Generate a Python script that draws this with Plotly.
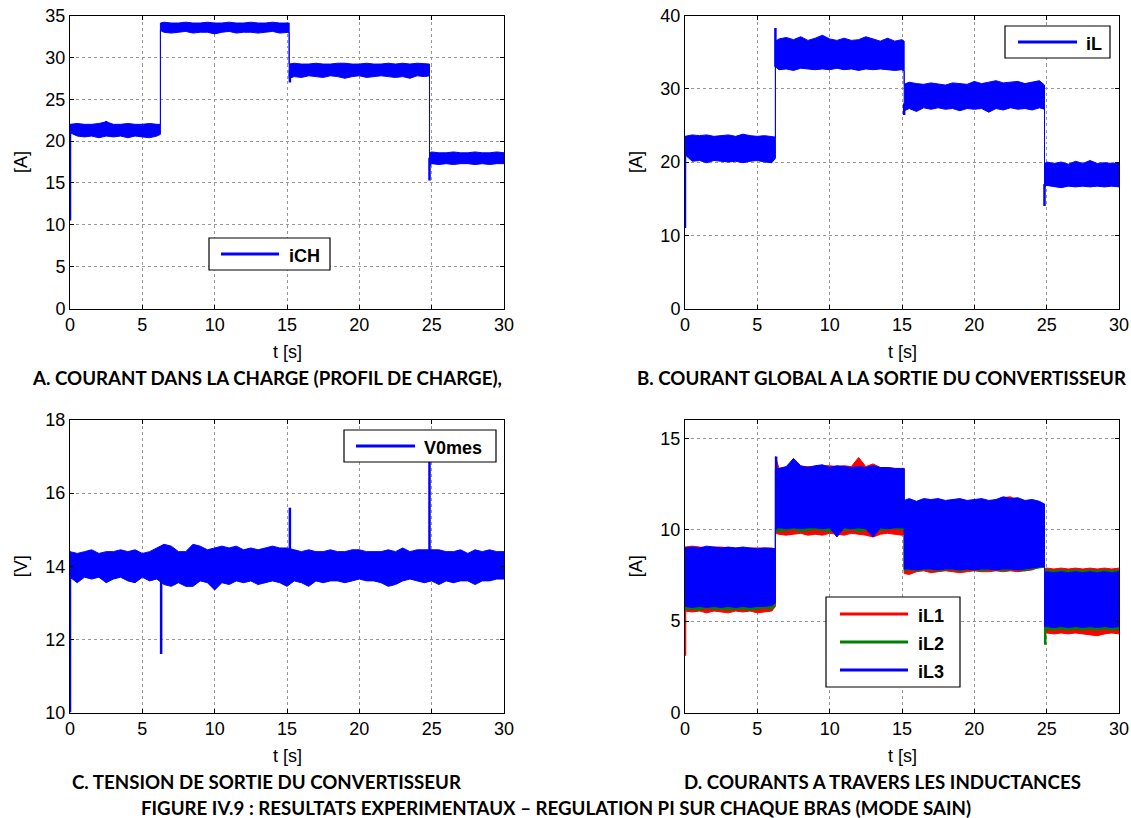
import plotly.graph_objects as go

# ---------------- data ----------------
# shared time grid for the step-profile panels (A, B, D)
T = [0, 0.5, 1, 1.5, 2, 2.5, 3, 3.5, 4, 4.5, 5, 5.5, 6, 6.25,
     6.25, 6.5, 7, 7.5, 8, 8.5, 9, 9.5, 10, 10.5, 11, 11.5, 12, 12.5, 13, 13.5, 14, 14.5, 15, 15.15,
     15.15, 15.5, 16, 16.5, 17, 17.5, 18, 18.5, 19, 19.5, 20, 20.5, 21, 21.5, 22, 22.5, 23, 23.5, 24, 24.5, 24.85,
     24.85, 25, 25.5, 26, 26.5, 27, 27.5, 28, 28.5, 29, 29.5, 30]

# A: load current iCH envelope
A_hi = [22.0, 22.1, 22.0, 22.0, 22.1, 22.3, 22.0, 22.0, 22.1, 22.0, 22.0, 22.1, 22.0, 22.0,
        34.1, 34.2, 34.1, 34.1, 34.2, 34.1, 34.1, 34.2, 34.1, 34.1, 34.2, 34.1, 34.1, 34.2, 34.1, 34.1, 34.2, 34.1, 34.1, 34.1,
        29.2, 29.3, 29.2, 29.2, 29.3, 29.2, 29.2, 29.3, 29.3, 29.2, 29.2, 29.3, 29.2, 29.2, 29.3, 29.2, 29.3, 29.2, 29.3, 29.2, 29.2,
        18.6, 18.7, 18.6, 18.6, 18.7, 18.6, 18.6, 18.7, 18.6, 18.6, 18.7, 18.6]
A_lo = [21.0, 20.6, 20.5, 20.6, 20.4, 20.6, 20.5, 20.6, 20.4, 20.6, 20.5, 20.4, 20.6, 20.8,
        33.2, 33.0, 32.9, 33.0, 33.1, 32.9, 33.0, 33.0, 32.8, 33.0, 33.1, 32.9, 33.0, 33.0, 32.9, 33.0, 33.1, 32.9, 33.0, 33.0,
        27.5, 27.7, 27.6, 27.8, 27.7, 27.6, 27.8, 27.7, 27.5, 27.7, 27.8, 27.6, 27.7, 27.8, 27.7, 27.6, 27.7, 27.5, 27.8, 27.7, 27.8,
        17.0, 17.3, 17.2, 17.3, 17.2, 17.3, 17.3, 17.2, 17.3, 17.2, 17.3, 17.3]
A_spike_t = [0, 2.5, 15.2, 24.85]
A_spike_lo = [10.5, 21.5, 27.0, 15.3]
A_spike_hi = [21.5, 22.4, 28.5, 18.0]

# B: global converter current iL envelope
B_hi = [23.5, 23.7, 23.6, 23.7, 23.5, 23.6, 23.7, 23.5, 23.8, 23.6, 23.5, 23.6, 23.4, 23.4,
        36.5, 36.8, 37.0, 36.7, 37.1, 36.6, 36.9, 37.3, 36.8, 36.6, 36.9, 36.6, 36.7, 37.1, 36.8, 36.5, 36.9, 36.5, 36.7, 36.5,
        30.6, 30.9, 30.7, 30.6, 30.8, 30.6, 30.5, 30.8, 30.7, 30.6, 31.0, 30.7, 30.9, 31.1, 30.8, 30.9, 31.0, 30.7, 30.9, 31.1, 30.5,
        19.6, 20.0, 19.8, 20.0, 19.7, 20.1, 19.8, 20.2, 19.8, 19.9, 19.8, 19.9]
B_lo = [21.0, 20.1, 20.2, 19.9, 20.2, 20.1, 20.0, 20.1, 19.9, 20.1, 20.2, 20.0, 19.9, 20.5,
        33.0, 32.6, 32.7, 32.5, 32.8, 32.7, 32.6, 32.7, 32.6, 32.8, 32.6, 32.7, 32.5, 32.7, 32.6, 32.7, 32.6, 32.5, 32.6, 32.4,
        27.0, 27.3, 26.9, 27.4, 27.2, 27.4, 27.2, 27.3, 27.0, 27.3, 27.2, 27.3, 26.8, 27.3, 27.1, 27.4, 27.2, 27.3, 27.1, 27.4, 27.2,
        16.5, 16.8, 16.6, 16.5, 16.7, 16.6, 16.7, 16.6, 16.7, 16.6, 16.7, 16.6]
B_spike_t = [0, 6.25, 15.15, 24.85]
B_spike_lo = [11.0, 33.0, 26.4, 14.0]
B_spike_hi = [21.0, 38.3, 28.0, 17.0]

# C: output voltage V0mes envelope
T_C = [0, 0.5, 1, 1.5, 2, 2.5, 3, 3.5, 4, 4.5, 5, 5.5, 6, 6.5, 7, 7.5, 8, 8.5, 9, 9.5,
       10, 10.5, 11, 11.5, 12, 12.5, 13, 13.5, 14, 14.5, 15, 15.5, 16, 16.5, 17, 17.5, 18, 18.5, 19, 19.5,
       20, 20.5, 21, 21.5, 22, 22.5, 23, 23.5, 24, 24.5, 25, 25.5, 26, 26.5, 27, 27.5, 28, 28.5, 29, 29.5, 30]
C_hi = [14.4, 14.35, 14.4, 14.45, 14.35, 14.4, 14.4, 14.45, 14.4, 14.45, 14.35, 14.4, 14.5, 14.6, 14.55, 14.4, 14.4, 14.6, 14.55, 14.45,
        14.5, 14.55, 14.5, 14.55, 14.45, 14.5, 14.45, 14.5, 14.55, 14.5, 14.5, 14.45, 14.4, 14.45, 14.4, 14.4, 14.45, 14.4, 14.4, 14.45,
        14.45, 14.4, 14.4, 14.4, 14.45, 14.4, 14.5, 14.4, 14.45, 14.45, 14.45, 14.45, 14.4, 14.4, 14.45, 14.35, 14.45, 14.4, 14.45, 14.4, 14.4]
C_lo = [13.7, 13.55, 13.7, 13.65, 13.7, 13.55, 13.65, 13.7, 13.6, 13.55, 13.7, 13.6, 13.65, 13.5, 13.45, 13.55, 13.45, 13.45, 13.6, 13.55,
        13.35, 13.55, 13.5, 13.6, 13.55, 13.6, 13.5, 13.55, 13.6, 13.55, 13.45, 13.6, 13.55, 13.45, 13.6, 13.55, 13.6, 13.6, 13.55, 13.6,
        13.65, 13.6, 13.6, 13.55, 13.45, 13.5, 13.6, 13.65, 13.6, 13.55, 13.6, 13.5, 13.6, 13.55, 13.6, 13.6, 13.5, 13.6, 13.6, 13.65, 13.65]
C_spike_t = [0, 6.3, 15.2, 24.85]
C_spike_lo = [10.0, 11.6, 14.3, 14.3]
C_spike_hi = [14.0, 13.8, 15.6, 17.0]

# D: inductor currents iL1 (red), iL2 (green), iL3 (blue) envelopes
D1_hi = [9.05, 9.1, 9.05, 9.0, 9.05, 9.05, 9.0, 9.0, 8.95, 9.0, 9.0, 9.0, 9.0, 8.95,
         14.0, 13.35, 13.4, 13.4, 13.45, 13.45, 13.45, 13.5, 13.5, 13.45, 13.5, 13.45, 13.95, 13.45, 13.6, 13.4, 13.4, 13.35, 13.35, 13.35,
         11.5, 11.6, 11.5, 11.6, 11.55, 11.6, 11.55, 11.6, 11.6, 11.55, 11.6, 11.6, 11.55, 11.6, 11.75, 11.8, 11.6, 11.55, 11.6, 11.5, 11.4,
         7.85, 7.9, 7.85, 7.9, 7.85, 7.9, 7.85, 7.9, 7.85, 7.9, 7.85, 7.9]
D1_lo = [5.55, 5.5, 5.55, 5.45, 5.55, 5.5, 5.45, 5.55, 5.5, 5.55, 5.45, 5.5, 5.55, 5.8,
         9.8, 9.75, 9.7, 9.75, 9.8, 9.7, 9.75, 9.7, 9.8, 9.75, 9.7, 9.8, 9.75, 9.7, 9.6, 9.75, 9.8, 9.75, 9.7, 9.75,
         7.6, 7.55, 7.7, 7.75, 7.65, 7.7, 7.75, 7.7, 7.65, 7.7, 7.75, 7.7, 7.7, 7.75, 7.7, 7.75, 7.7, 7.75, 7.8, 7.95, 8.0,
         4.4, 4.35, 4.3, 4.35, 4.3, 4.35, 4.3, 4.25, 4.2, 4.3, 4.35, 4.3]
D2_hi = [8.95, 9.0, 8.95, 9.0, 9.0, 8.95, 9.0, 8.95, 9.0, 8.95, 8.9, 8.95, 8.9, 8.9,
         13.3, 13.3, 13.4, 13.4, 13.4, 13.35, 13.4, 13.4, 13.35, 13.4, 13.4, 13.35, 13.4, 13.35, 13.4, 13.35, 13.35, 13.3, 13.3, 13.3,
         11.5, 11.55, 11.5, 11.55, 11.5, 11.55, 11.5, 11.55, 11.5, 11.55, 11.5, 11.55, 11.5, 11.55, 11.6, 11.55, 11.5, 11.55, 11.5, 11.45, 11.35,
         7.75, 7.8, 7.75, 7.8, 7.75, 7.8, 7.75, 7.8, 7.75, 7.8, 7.75, 7.8]
D2_lo = [5.65, 5.65, 5.6, 5.7, 5.65, 5.65, 5.6, 5.65, 5.65, 5.6, 5.65, 5.7, 5.65, 5.9,
         9.95, 9.9, 9.95, 10.0, 9.9, 9.95, 10.0, 9.95, 9.9, 10.0, 9.95, 10.0, 9.9, 9.95, 10.0, 9.95, 10.0, 10.05, 10.0, 10.0,
         7.75, 7.8, 7.75, 7.8, 7.8, 7.75, 7.8, 7.8, 7.75, 7.8, 7.8, 7.75, 7.8, 7.8, 7.75, 7.8, 7.8, 7.75, 7.85, 7.9, 7.95,
         4.5, 4.55, 4.5, 4.55, 4.5, 4.55, 4.5, 4.55, 4.5, 4.55, 4.5, 4.55]
D3_hi = [9.0, 9.05, 9.0, 9.1, 9.05, 9.0, 9.05, 9.0, 9.05, 9.0, 8.95, 9.0, 8.95, 8.95,
         13.3, 13.35, 13.45, 13.9, 13.5, 13.4, 13.5, 13.55, 13.4, 13.5, 13.45, 13.4, 13.45, 13.4, 13.5, 13.4, 13.4, 13.35, 13.35, 13.35,
         11.6, 11.7, 11.55, 11.7, 11.65, 11.7, 11.6, 11.65, 11.7, 11.6, 11.65, 11.7, 11.6, 11.65, 11.8, 11.7, 11.75, 11.6, 11.65, 11.55, 11.4,
         7.65, 7.7, 7.65, 7.7, 7.65, 7.7, 7.65, 7.7, 7.65, 7.7, 7.65, 7.7]
D3_lo = [5.8, 5.75, 5.8, 5.75, 5.8, 5.75, 5.8, 5.75, 5.8, 5.75, 5.8, 5.8, 5.85, 6.0,
         10.1, 10.1, 10.05, 10.1, 10.05, 10.1, 10.1, 10.05, 10.1, 9.6, 10.1, 10.05, 10.1, 10.05, 9.6, 10.1, 10.05, 10.1, 10.1, 10.1,
         7.85, 7.85, 7.8, 7.85, 7.85, 7.8, 7.85, 7.85, 7.8, 7.85, 7.8, 7.85, 7.85, 7.8, 7.85, 7.85, 7.8, 7.85, 7.9, 7.95, 8.0,
         4.7, 4.7, 4.65, 4.7, 4.65, 4.7, 4.65, 4.7, 4.65, 4.7, 4.65, 4.7]
D1_spike_t, D1_spike_lo, D1_spike_hi = [0], [3.1], [6.0]
D2_spike_t, D2_spike_lo, D2_spike_hi = [24.9], [3.7], [5.0]
D3_spike_t, D3_spike_lo, D3_spike_hi = [6.3], [10.0], [14.0]

# panel texts
TITLES = ["A. COURANT DANS LA CHARGE (PROFIL DE CHARGE),",
          "B. COURANT GLOBAL A LA SORTIE DU CONVERTISSEUR",
          "C. TENSION DE SORTIE DU CONVERTISSEUR",
          "D. COURANTS A TRAVERS LES INDUCTANCES"]
FIG_CAPTION = "FIGURE IV.9 : RESULTATS EXPERIMENTAUX \u2013 REGULATION PI SUR CHAQUE BRAS (MODE SAIN)"
X_TITLE = "t [s]"
Y_TITLES = ["[A]", "[A]", "[V]", "[A]"]
LEGEND_NAMES = [["iCH"], ["iL"], ["V0mes"], ["iL1", "iL2", "iL3"]]

# ---------------- figure ----------------
W, H = 1131, 818
BLUE, RED, GREEN = "#0000FF", "#FF0000", "#008000"
ARIAL = "Liberation Sans, Arial, sans-serif"

fig = go.Figure()


def axes_ids(ax):
    return ("x" if ax == 1 else f"x{ax}"), ("y" if ax == 1 else f"y{ax}")


def band(ax, t, hi, lo, color, name):
    assert len(t) == len(hi) == len(lo)
    xa, ya = axes_ids(ax)
    fig.add_trace(go.Scatter(x=t, y=hi, mode="lines", line=dict(color=color, width=1),
                             xaxis=xa, yaxis=ya, showlegend=False, hoverinfo="skip", name=name))
    fig.add_trace(go.Scatter(x=t, y=lo, mode="lines", line=dict(color=color, width=1),
                             fill="tonexty", fillcolor=color,
                             xaxis=xa, yaxis=ya, showlegend=False, hoverinfo="skip", name=name))


def spikes(ax, ts, los, his, color):
    xa, ya = axes_ids(ax)
    xs, ys = [], []
    for t, a, b in zip(ts, los, his):
        xs += [t, t, None]
        ys += [a, b, None]
    fig.add_trace(go.Scatter(x=xs, y=ys, mode="lines", line=dict(color=color, width=2.5),
                             xaxis=xa, yaxis=ya, showlegend=False, hoverinfo="skip"))


band(1, T, A_hi, A_lo, BLUE, "iCH")
spikes(1, A_spike_t, A_spike_lo, A_spike_hi, BLUE)

band(2, T, B_hi, B_lo, BLUE, "iL")
spikes(2, B_spike_t, B_spike_lo, B_spike_hi, BLUE)

band(3, T_C, C_hi, C_lo, BLUE, "V0mes")
spikes(3, C_spike_t, C_spike_lo, C_spike_hi, BLUE)

band(4, T, D1_hi, D1_lo, RED, "iL1")
spikes(4, D1_spike_t, D1_spike_lo, D1_spike_hi, RED)
band(4, T, D2_hi, D2_lo, GREEN, "iL2")
spikes(4, D2_spike_t, D2_spike_lo, D2_spike_hi, GREEN)
band(4, T, D3_hi, D3_lo, BLUE, "iL3")
spikes(4, D3_spike_t, D3_spike_lo, D3_spike_hi, BLUE)

TICKFONT = dict(family=ARIAL, size=18, color="black")

axis_common = dict(showline=True, linecolor="black", linewidth=1, mirror="ticks",
                   ticks="inside", ticklen=4, tickcolor="black", showgrid=True,
                   gridcolor="rgb(150,150,150)", griddash="dot", gridwidth=1,
                   zeroline=False, tickfont=TICKFONT, automargin=False)

# panel boxes in pixels: left, right, top, bottom
panels = [
    (70, 504, 15.5, 308.5, [0, 35], 5),
    (685, 1119, 15.5, 308.5, [0, 40], 10),
    (70, 504, 420, 712.5, [10, 18], 2),
    (685, 1119, 420, 712.5, [0, 16], 5),
]


def px(x):
    return x / W


def py(y):
    return 1 - y / H


for i, (l, r, top, bot, yr, dt) in enumerate(panels, start=1):
    sx = "" if i == 1 else str(i)
    fig.update_layout(**{
        f"xaxis{sx}": dict(domain=[px(l), px(r)], anchor=f"y{sx}", range=[0, 30], dtick=5, tick0=0,
                           **axis_common),
        f"yaxis{sx}": dict(domain=[py(bot), py(top)], anchor=f"x{sx}", range=yr, dtick=dt, tick0=0,
                           **axis_common),
    })
    # axis titles
    fig.add_annotation(x=px((l + r) / 2), y=py(bot + 43), xref="paper", yref="paper", text=X_TITLE,
                       showarrow=False, font=TICKFONT, xanchor="center", yanchor="middle")
    fig.add_annotation(x=px(l - 49), y=py((top + bot) / 2), xref="paper", yref="paper", text=Y_TITLES[i - 1],
                       showarrow=False, font=TICKFONT, textangle=-90, xanchor="center", yanchor="middle")

# hand-drawn MATLAB-style legends: box, line samples, bold labels
# (box_l, box_r, box_t, box_b, line_l, line_r, text_l, [row centres])
legends = [
    (209, 330, 238, 270, 221, 279, 287, [254]),
    (1005, 1110, 26, 58, 1018, 1077, 1084, [42]),
    (344, 496, 430, 462, 356, 415, 422, [446]),
    (826, 960, 597, 687, 840, 908, 916, [614, 642, 670]),
]
legend_colors = [[BLUE], [BLUE], [BLUE], [RED, GREEN, BLUE]]
for (bl, br, bt, bb, ll, lr, tl, rows), names, cols in zip(legends, LEGEND_NAMES, legend_colors):
    fig.add_shape(type="rect", xref="paper", yref="paper", x0=px(bl), x1=px(br), y0=py(bb), y1=py(bt),
                  line=dict(color="black", width=1.2), fillcolor="white", layer="above")
    for yrow, nm, c in zip(rows, names, cols):
        fig.add_shape(type="line", xref="paper", yref="paper", x0=px(ll), x1=px(lr), y0=py(yrow), y1=py(yrow),
                      line=dict(color=c, width=3), layer="above")
        fig.add_annotation(x=px(tl), y=py(yrow + 2), xref="paper", yref="paper", text=f"<b>{nm}</b>",
                           showarrow=False, xanchor="left", yanchor="middle",
                           font=dict(family=ARIAL, size=18, color="black"))

TFONT = dict(family="Lato, Open Sans, sans-serif", size=18.7, color="black")
ann = [
    (266.5, 378, TITLES[0]),
    (882, 378, TITLES[1]),
    (267, 782, TITLES[2]),
    (882, 782, TITLES[3]),
    (555.5, 808, FIG_CAPTION),
]
for x, y, txt in ann:
    fig.add_annotation(x=px(x), y=py(y), xref="paper", yref="paper", text=f"<b>{txt}</b>",
                       showarrow=False, font=TFONT, xanchor="center", yanchor="middle")

fig.update_layout(width=W, height=H, margin=dict(l=0, r=0, t=0, b=0), showlegend=False,
                  paper_bgcolor="white", plot_bgcolor="white")

# the page's default 8px body margin would shift the figure; remove it
fig.write_html("out.html", config={"displayModeBar": False},
               post_script="document.body.style.margin='0';document.body.style.overflow='hidden';")
